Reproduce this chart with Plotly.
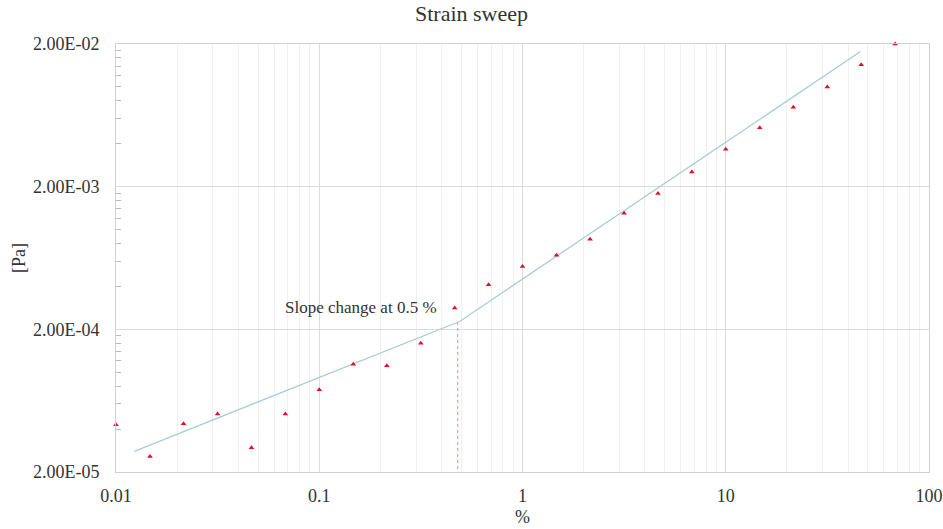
import plotly.graph_objects as go

# Data
strain = [0.01, 0.0147, 0.0215, 0.0316, 0.0464, 0.0681, 0.1, 0.147, 0.215, 0.316,
          0.464, 0.681, 1.0, 1.47, 2.15, 3.16, 4.64, 6.81, 10.0, 14.7, 21.5, 31.6, 46.4, 68.1]
stress = [4.29e-5, 2.57e-5, 4.35e-5, 5.09e-5, 2.96e-5, 5.11e-5, 7.53e-5, 1.14e-4, 1.11e-4, 1.60e-4,
          2.82e-4, 4.10e-4, 5.52e-4, 6.62e-4, 8.55e-4, 1.30e-3, 1.79e-3, 2.53e-3, 3.66e-3, 5.18e-3,
          7.21e-3, 1.00e-2, 1.43e-2, 2.00e-2]

fit1_x = [0.0123, 0.49]
fit1_y = [2.79e-5, 2.27e-4]
fit2_x = [0.49, 46.0]
fit2_y = [2.27e-4, 1.77e-2]

break_x = [0.48, 0.48]
break_y = [2.25e-4, 2.0e-5]

y_ticks = [2e-5, 2e-4, 2e-3, 2e-2]
y_ticktext = ["2.00E-05", "2.00E-04", "2.00E-03", "2.00E-02"]
y_minor = [m * 10 ** e for e in (-5, -4, -3) for m in (4, 6, 8, 10, 12, 14, 16, 18)]
x_ticks = [0.01, 0.1, 1, 10, 100]
x_ticktext = ["0.01", "0.1", "1", "10", "100"]

FONT = "Liberation Serif"
TXT = "#333333"
fig = go.Figure()

fig.add_trace(go.Scatter(x=fit1_x, y=fit1_y, mode="lines",
                         line=dict(color="#a9cdd5", width=1.3), showlegend=False))
fig.add_trace(go.Scatter(x=fit2_x, y=fit2_y, mode="lines",
                         line=dict(color="#a9cdd5", width=1.3), showlegend=False))
fig.add_trace(go.Scatter(x=break_x, y=break_y, mode="lines",
                         line=dict(color="#ee8898", width=1, dash="dot"), showlegend=False))
fig.add_trace(go.Scatter(x=strain, y=stress, mode="markers", cliponaxis=False,
                         marker=dict(symbol="triangle-up", size=5, color="#e0102a"),
                         showlegend=False))
# invisible trace to activate the overlay axis for minor y ticks
fig.add_trace(go.Scatter(x=[strain[0]], y=[stress[0]], mode="markers", yaxis="y2",
                         marker=dict(opacity=0), showlegend=False, hoverinfo="skip"))

fig.add_annotation(x=-0.41, y=-3.545, xref="x", yref="y", text="Slope change at 0.5 %",
                   showarrow=False, xanchor="right", yanchor="middle",
                   font=dict(family=FONT, size=17, color=TXT))

yr = [-4.69897, -1.69897]
fig.update_layout(
    template="none",
    width=943, height=529,
    margin=dict(l=116, r=14, t=44, b=57),
    paper_bgcolor="white", plot_bgcolor="white",
    title=dict(text="Strain sweep", x=0.5, xanchor="center", y=0.975, yanchor="middle",
               font=dict(family=FONT, size=22, color=TXT)),
    font=dict(family=FONT, color=TXT),
    xaxis=dict(type="log", range=[-2, 2], tickvals=x_ticks, ticktext=x_ticktext,
               showgrid=True, gridcolor="#dcdcdc", gridwidth=1,
               minor=dict(showgrid=True, gridcolor="#f0f0f0", dtick="D1", ticks=""),
               showline=True, linecolor="#d0d0d0", mirror=True, ticks="",
               ticklabelstandoff=7,
               tickfont=dict(family=FONT, size=18, color=TXT),
               title=dict(text="%", font=dict(family=FONT, size=18, color=TXT), standoff=5),
               zeroline=False, automargin=False),
    yaxis=dict(type="log", range=yr, tickvals=y_ticks, ticktext=y_ticktext,
               showgrid=True, gridcolor="#dcdcdc", gridwidth=1,
               showline=True, linecolor="#d0d0d0", mirror=True,
               ticks="outside", ticklen=12, tickcolor="rgba(0,0,0,0)",
               tickfont=dict(family=FONT, size=18, color=TXT),
               title=dict(text="[Pa]", font=dict(family=FONT, size=18, color=TXT), standoff=2),
               zeroline=False, automargin=True),
    yaxis2=dict(type="log", range=yr, overlaying="y", side="left", tickvals=y_minor,
                ticks="inside", ticklen=5, tickcolor="#bbbbbb", showticklabels=False,
                showgrid=False, showline=False, zeroline=False, automargin=False),
)

fig.write_html("out.html", config={"displayModeBar": False},
               post_script="document.body.style.margin='0';")
